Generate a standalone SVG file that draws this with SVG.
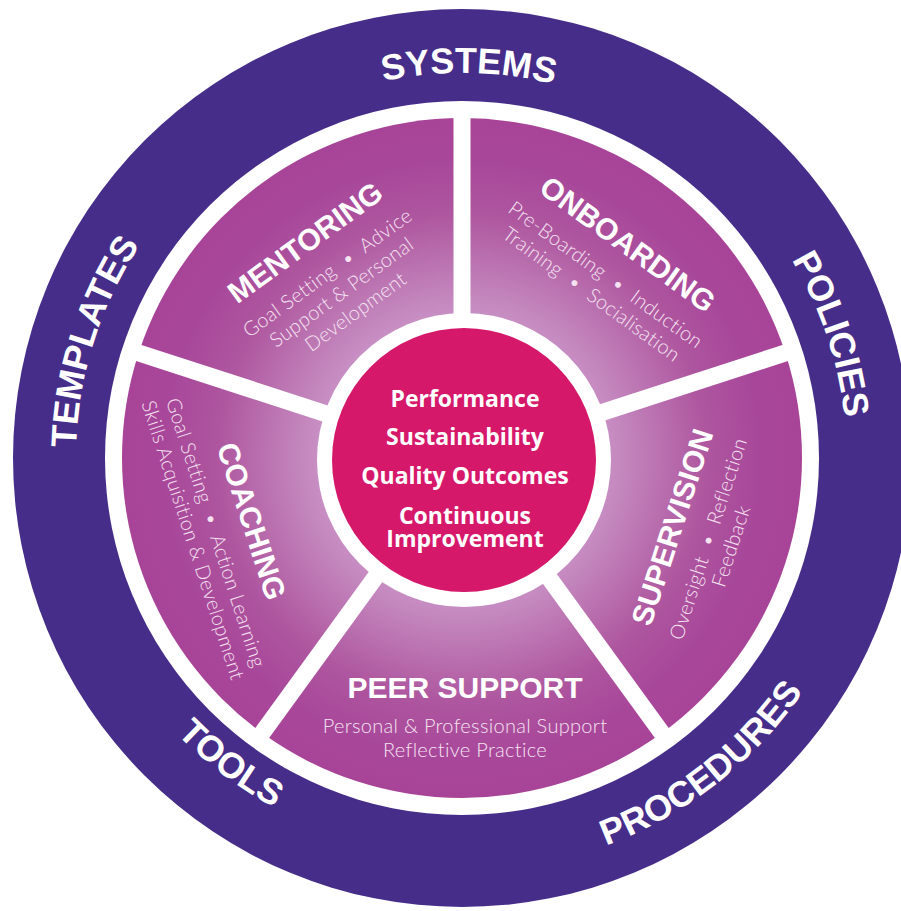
<svg xmlns="http://www.w3.org/2000/svg" width="901" height="911" viewBox="0 0 901 911">
  <defs>
    <radialGradient id="segGrad" gradientUnits="userSpaceOnUse" cx="462" cy="458" r="340">
      <stop offset="0.42" stop-color="#c890c4"/>
      <stop offset="0.55" stop-color="#bd78b4"/>
      <stop offset="0.72" stop-color="#ae569f"/>
      <stop offset="0.88" stop-color="#a8479a"/>
      <stop offset="1" stop-color="#a84497"/>
    </radialGradient>
    <path id="pSystems" d="M76.06,451.26 A386,386 0 0 1 847.94,464.74"/>
    <path id="pPolicies" d="M339.52,91.95 A386,386 0 0 1 584.48,824.05"/>
    <path id="pTemplates" d="M345.93,826.14 A386,386 0 0 1 578.07,89.86"/>
    <path id="pProcedures" d="M135.37,713.19 A414.5,414.5 0 0 0 788.63,202.81"/>
    <path id="pTools" d="M130.96,208.55 A414.5,414.5 0 0 0 792.04,707.45"/>
  </defs>
  <style>
    .ring { fill: #462d89; }
    .seg { fill: url(#segGrad); }
    .sep { stroke: #ffffff; stroke-width: 17; stroke-linecap: butt; }
    .outer { font-family: "Liberation Sans", Arial, sans-serif; font-weight: 700; font-size: 36px; fill: #ffffff; }
    .title { font-family: "Liberation Sans", Arial, sans-serif; font-weight: 700; font-size: 30px; fill: #ffffff; text-anchor: middle; }
    .sub { font-family: "Lato", "Open Sans", sans-serif; font-weight: 300; font-size: 20px; letter-spacing: 0.3px; fill: #f5e3f1; text-anchor: middle; }
    .core { font-family: "Open Sans", "Noto Sans", sans-serif; font-weight: 700; font-size: 23px; fill: #ffffff; text-anchor: middle; }
  </style>

  <g id="outer-ring">
    <circle class="ring" cx="462" cy="458" r="449"/>
    <circle cx="462" cy="458" r="357" fill="#ffffff"/>
    <text class="outer"><textPath href="#pSystems" startOffset="50%" text-anchor="middle">SYSTEMS</textPath></text>
    <text class="outer"><textPath href="#pPolicies" startOffset="50%" text-anchor="middle">POLICIES</textPath></text>
    <text class="outer"><textPath href="#pTemplates" startOffset="50%" text-anchor="middle">TEMPLATES</textPath></text>
    <text class="outer"><textPath href="#pProcedures" startOffset="50%" text-anchor="middle">PROCEDURES</textPath></text>
    <text class="outer"><textPath href="#pTools" startOffset="50%" text-anchor="middle">TOOLS</textPath></text>
  </g>

  <g id="mentoring">
    <path class="seg" d="M462,458 L138.64,352.93 A340,340 0 0 1 462,118 Z"/>
    <g transform="translate(305,242) rotate(-36)">
      <text class="title" x="0" y="10.7">MENTORING</text>
      <text class="sub" x="0" y="45">Goal Setting &#160;•&#160; Advice</text>
      <text class="sub" x="0" y="69">Support &amp; Personal</text>
      <text class="sub" x="0" y="93">Development</text>
    </g>
  </g>

  <g id="onboarding">
    <path class="seg" d="M462,458 L462,118 A340,340 0 0 1 785.36,352.93 Z"/>
    <g transform="translate(628,244) rotate(36)">
      <text class="title" x="0" y="10.7">ONBOARDING</text>
      <text class="sub" x="0" y="45">Pre-Boarding &#160;•&#160; Induction</text>
      <text class="sub" x="0" y="69">Training &#160;•&#160; Socialisation</text>
    </g>
  </g>

  <g id="supervision">
    <path class="seg" d="M462,458 L785.36,352.93 A340,340 0 0 1 661.85,733.07 Z"/>
    <g transform="translate(672,527) rotate(-72)">
      <text class="title" x="0" y="10.7">SUPERVISION</text>
      <text class="sub" x="0" y="45">Oversight &#160;•&#160; Reflection</text>
      <text class="sub" x="0" y="69">Feedback</text>
    </g>
  </g>

  <g id="peer-support">
    <path class="seg" d="M462,458 L661.85,733.07 A340,340 0 0 1 262.15,733.07 Z"/>
    <g transform="translate(465,687)">
      <text class="title" x="0" y="10.7">PEER SUPPORT</text>
      <text class="sub" x="0" y="46">Personal &amp; Professional Support</text>
      <text class="sub" x="0" y="70">Reflective Practice</text>
    </g>
  </g>

  <g id="coaching">
    <path class="seg" d="M462,458 L262.15,733.07 A340,340 0 0 1 138.64,352.93 Z"/>
    <g transform="translate(252,521) rotate(72)">
      <text class="title" x="0" y="10.7">COACHING</text>
      <text class="sub" x="0" y="45">Goal Setting &#160;•&#160; Action Learning</text>
      <text class="sub" x="0" y="69">Skills Acquisition &amp; Development</text>
    </g>
  </g>

  <g id="connectors">
    <line class="sep" x1="462" y1="458" x2="462" y2="106"/>
    <line class="sep" x1="462" y1="458" x2="796.77" y2="349.22"/>
    <line class="sep" x1="462" y1="458" x2="668.90" y2="742.78"/>
    <line class="sep" x1="462" y1="458" x2="255.10" y2="742.78"/>
    <line class="sep" x1="462" y1="458" x2="127.23" y2="349.22"/>
  </g>

  <g id="core">
    <circle cx="464" cy="460" r="147" fill="#ffffff"/>
    <circle cx="464" cy="460" r="132" fill="#d6186b"/>
    <text class="core" x="465" y="407">Performance</text>
    <text class="core" x="465" y="445">Sustainability</text>
    <text class="core" x="465" y="484">Quality Outcomes</text>
    <text class="core"><tspan x="465" y="524">Continuous</tspan><tspan x="465" y="547">Improvement</tspan></text>
  </g>
</svg>
